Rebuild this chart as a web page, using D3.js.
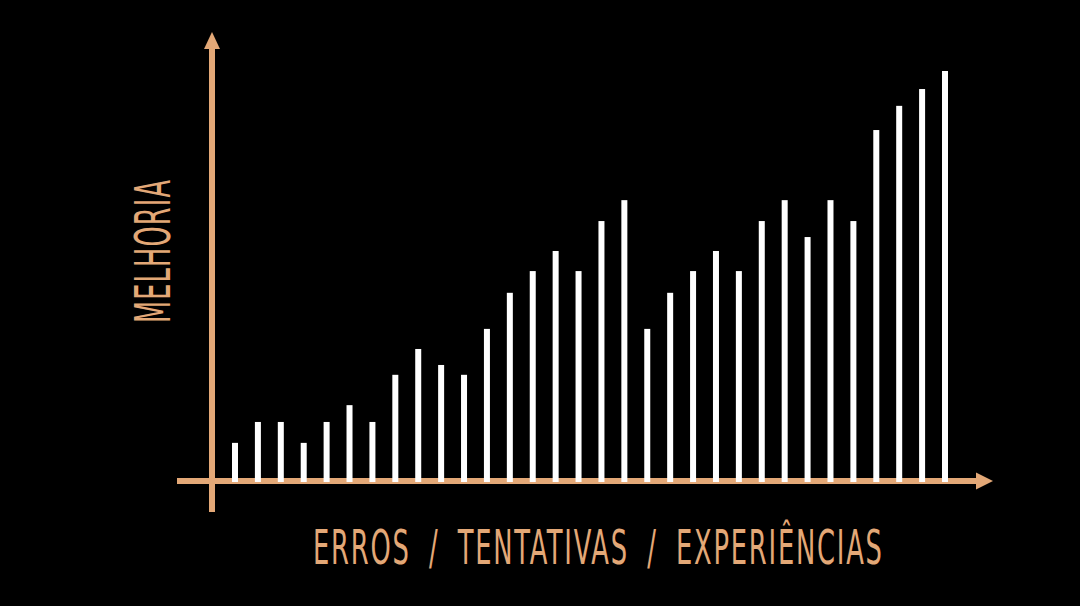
<!DOCTYPE html>
<html>
<head>
<meta charset="utf-8">
<script src="https://cdn.jsdelivr.net/npm/d3@7"></script>
<style>
  html, body { margin: 0; padding: 0; background: #000; }
  svg { display: block; }
</style>
</head>
<body>
<svg id="chart" width="1080" height="606"></svg>
<script>
// ---- data ----
const attempts = d3.range(1, 33).map(String);
const improvement = [9.3, 14.4, 14.4, 9.3, 14.4, 18.5, 14.4, 25.9, 32.2, 28.3, 25.9, 37.1,
                     45.9, 51.2, 56.1, 51.2, 63.4, 68.5, 37.1, 45.9, 51.2, 56.1, 51.2, 63.4,
                     68.5, 59.5, 68.5, 63.4, 85.6, 91.5, 95.6, 100];
const xLabel = "ERROS / TENTATIVAS / EXPERIÊNCIAS";
const yLabel = "MELHORIA";

// ---- styles ----
const axisColor = "#E3A877";
const barColor = "#FFFFFF";
const fontFamily = "'Liberation Sans Narrow', 'DejaVu Sans Condensed', 'DejaVu Sans', sans-serif";

const svg = d3.select("#chart");
svg.append("rect").attr("width", 1080).attr("height", 606).attr("fill", "#000");

const x = d3.scalePoint().domain(attempts).range([235, 945]);
const y = d3.scaleLinear().domain([0, 100]).range([481, 71]);

const originX = 212;
const baseY = y(0);

// horizontal axis
svg.append("line")
  .attr("x1", 177).attr("x2", 980)
  .attr("y1", baseY).attr("y2", baseY)
  .attr("stroke", axisColor).attr("stroke-width", 6);
svg.append("path")
  .attr("d", `M976,${baseY - 8.5} L993,${baseY} L976,${baseY + 8.5} Z`)
  .attr("fill", axisColor);

// vertical axis
svg.append("line")
  .attr("x1", originX).attr("x2", originX)
  .attr("y1", 512).attr("y2", 47)
  .attr("stroke", axisColor).attr("stroke-width", 6);
svg.append("path")
  .attr("d", `M${originX - 8},49 L${originX},32 L${originX + 8},49 Z`)
  .attr("fill", axisColor);

// bars
svg.append("g").selectAll("rect")
  .data(attempts.map((a, i) => ({ a, v: improvement[i] })))
  .join("rect")
  .attr("x", d => x(d.a) - 3)
  .attr("width", 6)
  .attr("y", d => y(d.v))
  .attr("height", d => baseY + 1 - y(d.v))
  .attr("fill", barColor);

// place a tall, horizontally squeezed label of a given length
function squeezedText(txt, transform, target, size, spacing, wordSpacing) {
  const g = svg.append("g").attr("transform", transform);
  const t = g.append("text")
    .attr("x", 0).attr("y", 0)
    .attr("fill", axisColor)
    .attr("font-family", fontFamily)
    .attr("font-stretch", "condensed")
    .attr("font-size", size)
    .attr("letter-spacing", spacing)
    .attr("word-spacing", wordSpacing)
    .text(txt);
  const w = t.node().getComputedTextLength() - spacing;
  t.attr("transform", `scale(${target / w},1)`);
}

squeezedText(xLabel, "translate(313,564)", 569, 48, 3, 14);
squeezedText(yLabel, "translate(170,323) rotate(-90)", 143, 50, 2, 0);
</script>
</body>
</html>
